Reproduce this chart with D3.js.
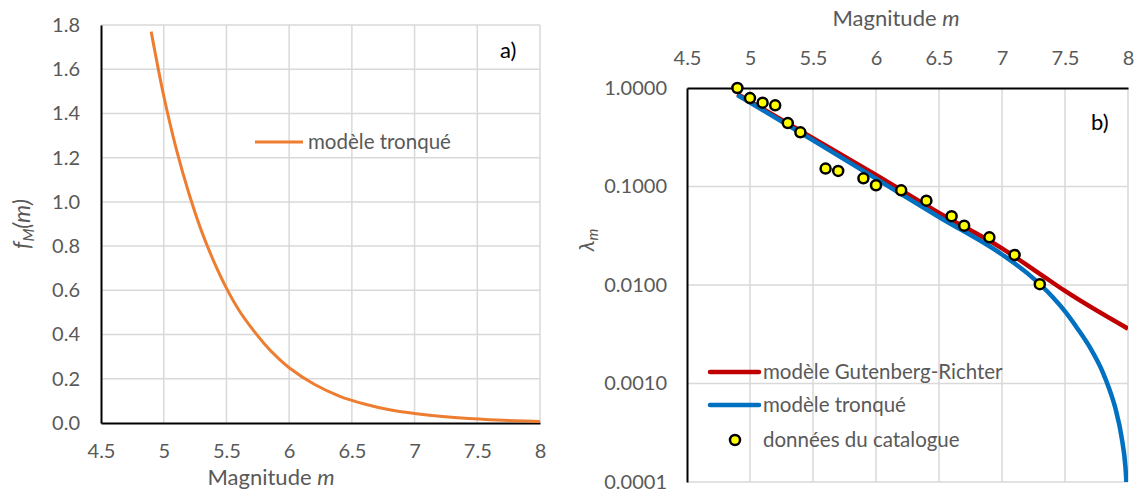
<!DOCTYPE html>
<html><head><meta charset="utf-8">
<script src="https://cdn.jsdelivr.net/npm/d3@7"></script>
<style>
html,body{margin:0;padding:0;background:#fff;}
svg text{font-family:Lato,"Open Sans",sans-serif;}
</style></head>
<body><svg id="c" width="1139" height="492"></svg>
<script>
// ---- Data (a): truncated density f_M(m)
const densM = [4.9,5.0,5.1,5.2,5.3,5.4,5.5,5.6,5.7,5.8,5.9,6.0,6.2,6.4,6.6,6.8,7.0,7.2,7.4,7.6,7.8,8.0];
const densF = [1.77,1.48,1.24,1.04,0.87,0.73,0.61,0.51,0.43,0.36,0.30,0.25,0.175,0.122,0.086,0.06,0.043,0.03,0.021,0.015,0.01,0.007];
const xTicksA = [4.5,5,5.5,6,6.5,7,7.5,8];
const yTicksA = [0,0.2,0.4,0.6,0.8,1.0,1.2,1.4,1.6,1.8];

// ---- Data (b): rates lambda_m
const grM = [4.9,5.5,6.0,6.5,7.0,7.3,7.5,8.0];
const grL = [0.87,0.31,0.131,0.054,0.0235,0.013,0.0087,0.0036];
const trM = [4.9,5.5,6.0,6.5,7.0,7.2,7.4,7.5,7.6,7.7,7.8,7.85,7.9,7.95,7.98,8.0];
const trL = [0.85,0.295,0.12,0.049,0.0204,0.0132,0.0076,0.0054,0.0036,0.0023,0.0013,0.00089,0.00056,0.00028,0.00014,0.00005];
const catM = [4.9,5.0,5.1,5.2,5.3,5.4,5.6,5.7,5.9,6.0,6.2,6.4,6.6,6.7,6.9,7.1,7.3];
const catL = [1.0,0.79,0.71,0.667,0.44,0.355,0.152,0.144,0.121,0.103,0.0915,0.0718,0.050,0.040,0.0305,0.0202,0.0102];
const xTicksB = [4.5,5,5.5,6,6.5,7,7.5,8];
const yTicksB = [0.0001,0.001,0.01,0.1,1];

const svg = d3.select("#c");
const grid = "#d9d9d9", txt = "#595959";
const tickFs = 20, legFs = 20.5, titleFs = 22;

// ================= Chart a =================
const A = {l:101, r:540, t:25, b:423};
const xa = d3.scaleLinear().domain([4.5,8]).range([A.l,A.r]);
const ya = d3.scaleLinear().domain([0,1.8]).range([A.b,A.t]);
const ga = svg.append("g");
ga.selectAll(".vg").data(xTicksA.slice(1)).enter().append("line")
  .attr("x1",d=>xa(d)).attr("x2",d=>xa(d)).attr("y1",A.t).attr("y2",A.b)
  .attr("stroke",grid).attr("stroke-width",1.5);
ga.selectAll(".hg").data(yTicksA.slice(1)).enter().append("line")
  .attr("x1",A.l).attr("x2",A.r).attr("y1",d=>ya(d)).attr("y2",d=>ya(d))
  .attr("stroke",grid).attr("stroke-width",1.5);
const axA = d3.axisBottom(xa).tickValues(xTicksA).tickSize(0).tickPadding(21).tickFormat(d3.format("~g"));
const gax = ga.append("g").attr("transform",`translate(0,${A.b})`).call(axA);
const ayA = d3.axisLeft(ya).tickValues(yTicksA).tickSize(0).tickPadding(21).tickFormat(d3.format(".1f"));
const gay = ga.append("g").attr("transform",`translate(${A.l},0)`).call(ayA);
[gax,gay].forEach(g=>{g.select(".domain").attr("stroke","#000").attr("stroke-width",2);
  g.selectAll("text").attr("fill",txt).attr("font-size",tickFs).attr("font-family","Lato");});
const densData = densM.map((m,i)=>({m, f:densF[i]}));
ga.append("path").datum(densData)
  .attr("d", d3.line().x(d=>xa(d.m)).y(d=>ya(d.f)).curve(d3.curveCatmullRom))
  .attr("fill","none").attr("stroke","#ED7D31").attr("stroke-width",3);
ga.append("line").attr("x1",255).attr("x2",303).attr("y1",142).attr("y2",142)
  .attr("stroke","#ED7D31").attr("stroke-width",3);
ga.append("text").attr("x",308).attr("y",149).attr("fill",txt).attr("font-size",legFs).text("modèle tronqué");
ga.append("text").attr("x",500).attr("y",58).attr("fill","#000").attr("font-size",22).text("a)");
const ta = ga.append("text").attr("x",271).attr("y",485).attr("text-anchor","middle").attr("fill",txt).attr("font-size",titleFs);
ta.append("tspan").text("Magnitude ");
ta.append("tspan").attr("font-style","italic").text("m");
const tya = ga.append("text").attr("transform","translate(30,224) rotate(-90)").attr("text-anchor","middle").attr("fill",txt).attr("font-size",23).attr("font-style","italic");
tya.append("tspan").text("f");
tya.append("tspan").attr("font-size",15).attr("dy",4).text("M");
tya.append("tspan").attr("dy",-4).text("(m)");

// ================= Chart b =================
const B = {l:687, r:1128, t:88, b:482};
const xb = d3.scaleLinear().domain([4.5,8]).range([B.l,B.r]);
const yb = d3.scaleLog().domain([0.0001,1]).range([B.b,B.t]);
const gb = svg.append("g");
gb.selectAll(".vg").data(xTicksB.slice(1)).enter().append("line")
  .attr("x1",d=>xb(d)).attr("x2",d=>xb(d)).attr("y1",B.t).attr("y2",B.b)
  .attr("stroke",grid).attr("stroke-width",1.5);
gb.selectAll(".hg").data(yTicksB.slice(0,-1)).enter().append("line")
  .attr("x1",B.l).attr("x2",B.r).attr("y1",d=>yb(d)).attr("y2",d=>yb(d))
  .attr("stroke",grid).attr("stroke-width",1.5);
const axB = d3.axisTop(xb).tickValues(xTicksB).tickSize(0).tickPadding(23).tickFormat(d3.format("~g"));
const gbx = gb.append("g").attr("transform",`translate(0,${B.t})`).call(axB);
const ayB = d3.axisLeft(yb).tickValues(yTicksB).tickSize(0).tickPadding(20).tickFormat(d3.format(".4f"));
const gby = gb.append("g").attr("transform",`translate(${B.l},0)`).call(ayB);
[gbx,gby].forEach(g=>{g.select(".domain").attr("stroke","#000").attr("stroke-width",2);
  g.selectAll("text").attr("fill",txt).attr("font-size",tickFs).attr("font-family","Lato");});
gb.append("clipPath").attr("id","clipB").append("rect")
  .attr("x",B.l).attr("y",B.t).attr("width",B.r-B.l).attr("height",B.b-B.t);
const lineB = d3.line().x(d=>xb(d.m)).y(d=>yb(d.l)).curve(d3.curveMonotoneX);
const grData = grM.map((m,i)=>({m,l:grL[i]}));
const trData = trM.map((m,i)=>({m,l:trL[i]}));
const plot = gb.append("g").attr("clip-path","url(#clipB)");
plot.append("path").datum(grData).attr("d",lineB).attr("fill","none").attr("stroke","#C00000").attr("stroke-width",4.5);
plot.append("path").datum(trData).attr("d",lineB).attr("fill","none").attr("stroke","#0070C0").attr("stroke-width",4.5);
gb.selectAll(".pt").data(catM.map((m,i)=>({m,l:catL[i]}))).enter().append("circle")
  .attr("cx",d=>xb(d.m)).attr("cy",d=>yb(d.l)).attr("r",5)
  .attr("fill","#FFFF00").attr("stroke","#000").attr("stroke-width",2.5);
gb.append("line").attr("x1",710).attr("x2",759).attr("y1",372).attr("y2",372).attr("stroke","#C00000").attr("stroke-width",4.5).attr("stroke-linecap","round");
gb.append("line").attr("x1",710).attr("x2",759).attr("y1",405).attr("y2",405).attr("stroke","#0070C0").attr("stroke-width",4.5).attr("stroke-linecap","round");
gb.append("circle").attr("cx",735).attr("cy",440).attr("r",5).attr("fill","#FFFF00").attr("stroke","#000").attr("stroke-width",2.5);
const legB = ["modèle Gutenberg-Richter","modèle tronqué","données du catalogue"];
const legY = [372,405,440];
gb.selectAll(".lt").data(legB).enter().append("text").attr("x",763).attr("y",(d,i)=>legY[i]+7)
  .attr("fill",txt).attr("font-size",legFs).text(d=>d);
gb.append("text").attr("x",1091).attr("y",130).attr("fill","#000").attr("font-size",22).text("b)");
const tb = gb.append("text").attr("x",896).attr("y",26).attr("text-anchor","middle").attr("fill",txt).attr("font-size",titleFs);
tb.append("tspan").text("Magnitude ");
tb.append("tspan").attr("font-style","italic").text("m");
const tyb = gb.append("text").attr("transform","translate(594,240) rotate(-90)").attr("text-anchor","middle").attr("fill",txt).attr("font-size",22).attr("font-style","italic");
tyb.append("tspan").text("λ");
tyb.append("tspan").attr("font-size",15).attr("dy",4).text("m");
</script></body></html>
